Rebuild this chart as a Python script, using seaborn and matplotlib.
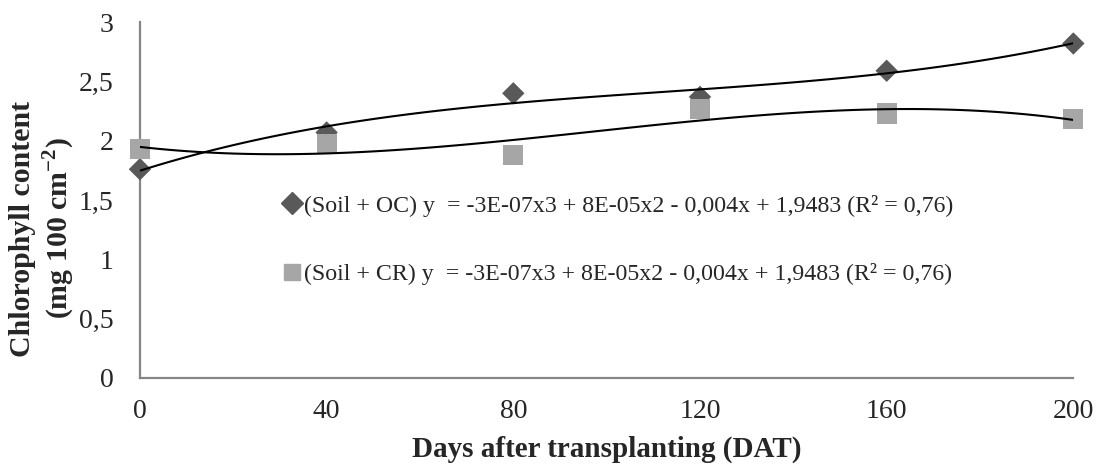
import numpy as np
import pandas as pd
import matplotlib
matplotlib.use("Agg")
import matplotlib.pyplot as plt
import seaborn as sns
from matplotlib.lines import Line2D

days = [0, 40, 80, 120, 160, 200]
soil_oc = [1.76, 2.07, 2.40, 2.37, 2.59, 2.82]
soil_cr = [1.93, 1.97, 1.88, 2.27, 2.23, 2.18]
label_oc = "(Soil + OC) y  = -3E-07x3 + 8E-05x2 - 0,004x + 1,9483 (R² = 0,76)"
label_cr = "(Soil + CR) y  = -3E-07x3 + 8E-05x2 - 0,004x + 1,9483 (R² = 0,76)"
yticks = [0, 0.5, 1, 1.5, 2, 2.5, 3]
ytick_labels = ["0", "0,5", "1", "1,5", "2", "2,5", "3"]
xticks = [0, 40, 80, 120, 160, 200]

sns.set_theme(style="white")
plt.rcParams['font.family'] = ['Liberation Serif', 'DejaVu Serif']
plt.rcParams['mathtext.fontset'] = 'custom'
plt.rcParams['mathtext.rm'] = 'Liberation Serif'
plt.rcParams['mathtext.bf'] = 'Liberation Serif:bold'

df = pd.DataFrame({"DAT": days, "OC": soil_oc, "CR": soil_cr})

fig = plt.figure(figsize=(11.02, 4.71), dpi=100)
ax = fig.add_axes([0.127, 0.1975, 0.847, 0.7555])

c_oc = "#595959"
c_cr = "#A6A6A6"

sns.scatterplot(data=df, x="DAT", y="OC", marker="D", s=130, color=c_oc,
                edgecolor="none", ax=ax, zorder=3, clip_on=False)
sns.scatterplot(data=df, x="DAT", y="CR", marker="s", s=210, color=c_cr,
                edgecolor="none", ax=ax, zorder=4, clip_on=False)
sns.regplot(data=df, x="DAT", y="OC", order=3, ci=None, scatter=False, ax=ax,
            line_kws=dict(color="black", lw=1.5, zorder=5))
sns.regplot(data=df, x="DAT", y="CR", order=3, ci=None, scatter=False, ax=ax,
            line_kws=dict(color="black", lw=1.5, zorder=5))

ax.set_xlim(0, 200)
ax.set_ylim(0, 3)
ax.set_xticks(xticks)
ax.set_xticklabels([str(v) for v in xticks])
ax.set_yticks(yticks)
ax.set_yticklabels(ytick_labels)

for s in ["top", "right"]:
    ax.spines[s].set_visible(False)
for s in ["left", "bottom"]:
    ax.spines[s].set_color("#868686")
    ax.spines[s].set_linewidth(1.6)
ax.tick_params(axis="both", which="major", direction="out", length=6, width=1.6,
               color="#868686", labelsize=20)
ax.tick_params(axis="y", pad=13)
ax.tick_params(axis="x", pad=9)

ax.set_xlabel("Days after transplanting (DAT)", fontsize=21, fontweight="bold")
ax.xaxis.set_label_coords(0.5, -0.163)
ax.set_ylabel("Chlorophyll content\n(mg 100 cm$^{\\mathbf{-2}}$)", fontsize=21.5,
              fontweight="bold", linespacing=1.18)
ax.yaxis.set_label_coords(-0.067, 0.42)

handles = [
    Line2D([], [], marker="D", color=c_oc, linestyle="none", markersize=11),
    Line2D([], [], marker="s", color=c_cr, linestyle="none", markersize=12),
]
ax.legend(handles, [label_oc, label_cr], loc="center left", bbox_to_anchor=(0.150, 0.388),
          frameon=False, fontsize=17.2, labelspacing=1.95, handletextpad=0.0,
          handlelength=1.0, borderaxespad=0, borderpad=0)

fig.savefig("out.png", dpi=100)
